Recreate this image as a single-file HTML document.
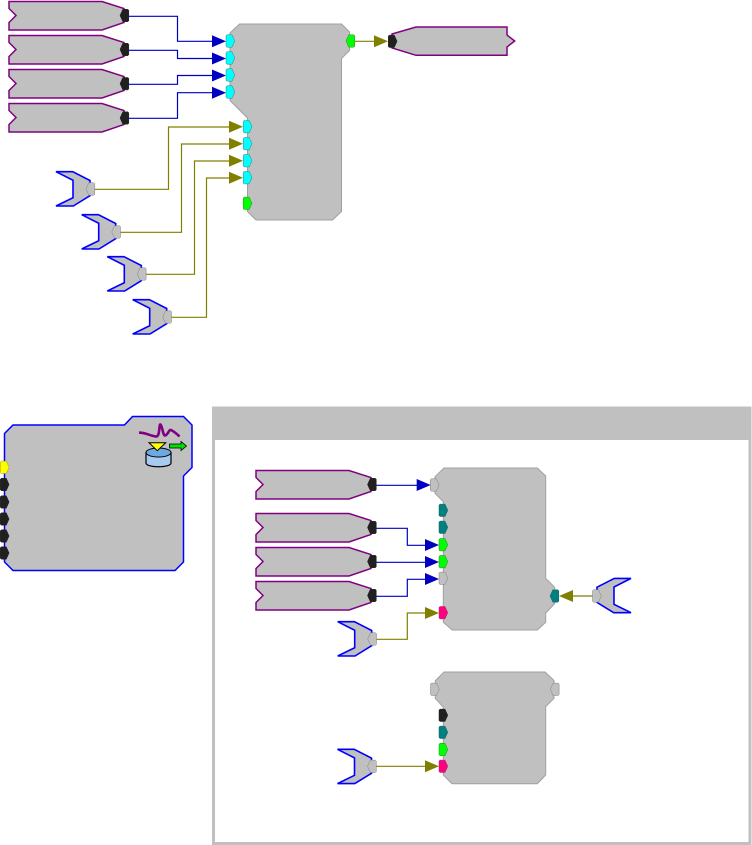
<!DOCTYPE html>
<html><head><meta charset="utf-8"><title>Diagram</title>
<style>html,body{margin:0;padding:0;background:#fff;width:752px;height:845px;overflow:hidden}svg{display:block}</style>
</head><body>
<svg width="752" height="845" viewBox="0 0 752 845" xmlns="http://www.w3.org/2000/svg">
<defs>
<path id="src" d="M9,1.5H102L124,8.5V22.5L102,30H9V22.5L16,15.5L9,8.5Z" fill="#c0c0c0" stroke="#800080" stroke-width="1.5"/>
<path id="inp" d="M56,171.7H72.7L90,180.5V195.7L73.3,206H56L73,197.7V180.3Z" fill="#c0c0c0" stroke="#0000ff" stroke-width="1.6"/>
<path id="pr" d="M0,-5.3L1,-6.2H6L8.8,0L6,6.2H1L0,5.3Z" stroke-width="0.5"/>
<path id="pl" d="M8.8,-5.3L7.8,-6.2H2.8L0,0L2.8,6.2H7.8L8.8,5.3Z" stroke-width="0.5"/>
<path id="ab" d="M0,-6L14,0L0,6Z" fill="#0000c0"/>
<path id="ao" d="M0,-6L14,0L0,6Z" fill="#808000"/>
</defs>

<!-- top connectors -->
<g fill="none" stroke="#0000c0" stroke-width="1.2">
<path d="M128,16.3H177.5V41.3H214"/>
<path d="M128,50.3H177.5V58.5H214"/>
<path d="M128,84.3H177.5V75.5H214"/>
<path d="M128,118.3H177.5V92.7H214"/>
</g>
<g fill="none" stroke="#808000" stroke-width="1.2">
<path d="M95,189.3H168.5V127H231"/>
<path d="M120,232.3H181.5V144H231"/>
<path d="M146,274.3H194.5V161H231"/>
<path d="M171,317.3H206.5V178H231"/>
<path d="M354,41.3H376"/>
</g>

<!-- top sources -->
<use href="#src"/>
<use href="#src" y="34"/>
<use href="#src" y="68"/>
<use href="#src" y="102"/>
<g fill="#202020" stroke="#202020">
<use href="#pl" x="120" y="15.5"/>
<use href="#pl" x="120" y="49.5"/>
<use href="#pl" x="120" y="83.7"/>
<use href="#pl" x="120" y="118"/>
</g>

<!-- top inputs -->
<use href="#inp"/>
<use href="#inp" x="25.7" y="43"/>
<use href="#inp" x="51.3" y="85"/>
<use href="#inp" x="76.7" y="128"/>
<g fill="#c0c0c0" stroke="#808080">
<use href="#pl" x="86" y="189"/>
<use href="#pl" x="111.7" y="232"/>
<use href="#pl" x="137.3" y="274"/>
<use href="#pl" x="162.7" y="317"/>
</g>

<!-- top block -->
<path d="M239.5,24H341.5L349.5,32V50.5L341.5,58.5V211.5L332.5,220H256L247.5,211.5V118L230,100.5V33Z" fill="#c0c0c0" stroke="#a0a0a0" stroke-width="1"/>
<use href="#ab" x="212" y="41.3"/>
<use href="#ab" x="212" y="58.5"/>
<use href="#ab" x="212" y="75.5"/>
<use href="#ab" x="212" y="92.7"/>
<use href="#ao" x="229" y="126.7"/>
<use href="#ao" x="229" y="143.7"/>
<use href="#ao" x="229" y="160.7"/>
<use href="#ao" x="229" y="177.7"/>
<use href="#ao" x="374" y="41.3"/>
<g fill="#00ffff" stroke="#308080">
<use href="#pr" x="226" y="41"/>
<use href="#pr" x="226" y="58"/>
<use href="#pr" x="226" y="75"/>
<use href="#pr" x="226" y="92"/>
<use href="#pr" x="243.2" y="126.7"/>
<use href="#pr" x="243.2" y="143.7"/>
<use href="#pr" x="243.2" y="160.7"/>
<use href="#pr" x="243.2" y="177.7"/>
</g>
<use href="#pr" x="243.2" y="203.3" fill="#00ff00" stroke="#308030"/>
<use href="#pl" x="346" y="41" fill="#00ff00" stroke="#308030"/>

<!-- top sink -->
<path d="M392,34L416,27H507V35L514.7,41L507,47V55.3H416L392,48Z" fill="#c0c0c0" stroke="#800080" stroke-width="1.5"/>
<use href="#pr" x="388.3" y="41.3" fill="#202020" stroke="#202020"/>

<!-- left block -->
<path d="M4.5,433.5L13,425H124.5L132.5,416.5H183.5L192,425V467.5L183.5,476V562L175,570.5H13L4.5,562Z" fill="#c0c0c0" stroke="#0000ff" stroke-width="1.5"/>
<use href="#pr" x="0.3" y="467.3" fill="#ffff00" stroke="#a0a000"/>
<g fill="#202020" stroke="#202020">
<use href="#pr" x="0.3" y="484.5"/>
<use href="#pr" x="0.3" y="502"/>
<use href="#pr" x="0.3" y="519"/>
<use href="#pr" x="0.3" y="536"/>
<use href="#pr" x="0.3" y="553"/>
</g>
<!-- icon -->
<path d="M139,432.7C145,432 150,436 156,436.5C160,437 159,425 160,424.5C162,424 163,436 165,435.5C168,435 169,429 171,430C174,431.5 176,433 179.5,436.5" fill="none" stroke="#800080" stroke-width="2.6"/>
<path d="M146,452.5V463C146,468 171,468 171,463V452.5Z" fill="#a6caf0" stroke="#000" stroke-width="1.2"/>
<ellipse cx="158.5" cy="452.5" rx="12.5" ry="4.5" fill="#6ea8e0" stroke="#000" stroke-width="1"/>
<path d="M149,442.7H165.7L157.3,450.7Z" fill="#ffff00" stroke="#000" stroke-width="1"/>
<path d="M169.5,444H181V441.5L186.5,446L181,450.5V448H169.5Z" fill="#00e000" stroke="#000" stroke-width="0.8"/>

<!-- panel -->
<rect x="213.5" y="408" width="536.5" height="435.5" fill="#fff" stroke="#c0c0c0" stroke-width="3"/>
<rect x="212" y="407" width="539.5" height="33" fill="#c0c0c0"/>

<!-- panel connectors -->
<g fill="none" stroke="#0000c0" stroke-width="1.2">
<path d="M375,485.3H418"/>
<path d="M375,528.3H407.3V545.3H427"/>
<path d="M375,562.3H427"/>
<path d="M375,596.3H407.3V579.3H427"/>
</g>
<g fill="none" stroke="#808000" stroke-width="1.2">
<path d="M376,639.3H407.3V613H427"/>
<path d="M571,596H593"/>
<path d="M376,766.3H427"/>
</g>

<!-- panel sources -->
<use href="#src" x="247" y="469"/>
<use href="#src" x="247" y="512"/>
<use href="#src" x="247" y="546"/>
<use href="#src" x="247" y="580"/>
<g fill="#202020" stroke="#202020">
<use href="#pl" x="367.5" y="484.5"/>
<use href="#pl" x="367.5" y="527.5"/>
<use href="#pl" x="367.5" y="561.5"/>
<use href="#pl" x="367.5" y="595.5"/>
</g>

<!-- panel inputs -->
<use href="#inp" x="281.7" y="450"/>
<use href="#pl" x="367.7" y="639" fill="#c0c0c0" stroke="#808080"/>
<use href="#inp" x="281.5" y="577.6"/>
<use href="#pl" x="367.5" y="766.3" fill="#c0c0c0" stroke="#808080"/>
<g transform="translate(687,406.7) scale(-1,1)"><use href="#inp"/></g>
<use href="#pr" x="592.5" y="596" fill="#c0c0c0" stroke="#808080"/>

<!-- block 2 -->
<path d="M444,468H537.3L545.7,476V578.3L554.7,587.3V603.5L545.7,613V622.3L537.3,630H452.3L443.3,622.3V501.7L435,493.3V476.7Z" fill="#c0c0c0" stroke="#a0a0a0" stroke-width="1"/>
<use href="#ab" x="416.7" y="485"/>
<use href="#ab" x="425" y="545"/>
<use href="#ab" x="425" y="562"/>
<use href="#ab" x="425" y="579"/>
<use href="#ao" x="425" y="613"/>
<use href="#ao" x="0" y="0" transform="translate(573,596) scale(-1,1)"/>
<use href="#pr" x="430.3" y="485" fill="#c0c0c0" stroke="#808080"/>
<use href="#pr" x="439" y="510.3" fill="#008080" stroke="#206060"/>
<use href="#pr" x="439" y="527.3" fill="#008080" stroke="#206060"/>
<use href="#pr" x="439" y="544.7" fill="#00ff00" stroke="#308030"/>
<use href="#pr" x="439" y="561.7" fill="#00ff00" stroke="#308030"/>
<use href="#pr" x="439" y="578.3" fill="#c0c0c0" stroke="#808080"/>
<use href="#pr" x="439" y="612.7" fill="#ff0080" stroke="#a03060"/>
<use href="#pl" x="550" y="596" fill="#008080" stroke="#206060"/>

<!-- block 3 -->
<path d="M444,672H545L554,680.5V698.3L545.7,706.7V775L537.3,783.7H452L443.3,775V707.3L435.3,698.3V680.7Z" fill="#c0c0c0" stroke="#a0a0a0" stroke-width="1"/>
<use href="#ao" x="425" y="766.3"/>
<use href="#pr" x="430.5" y="689.3" fill="#c0c0c0" stroke="#808080"/>
<use href="#pl" x="550.3" y="689.3" fill="#c0c0c0" stroke="#808080"/>
<use href="#pr" x="439" y="715.3" fill="#202020" stroke="#202020"/>
<use href="#pr" x="439" y="732.3" fill="#008080" stroke="#206060"/>
<use href="#pr" x="439" y="749.5" fill="#00ff00" stroke="#308030"/>
<use href="#pr" x="439" y="766.3" fill="#ff0080" stroke="#a03060"/>
</svg>
</body></html>
